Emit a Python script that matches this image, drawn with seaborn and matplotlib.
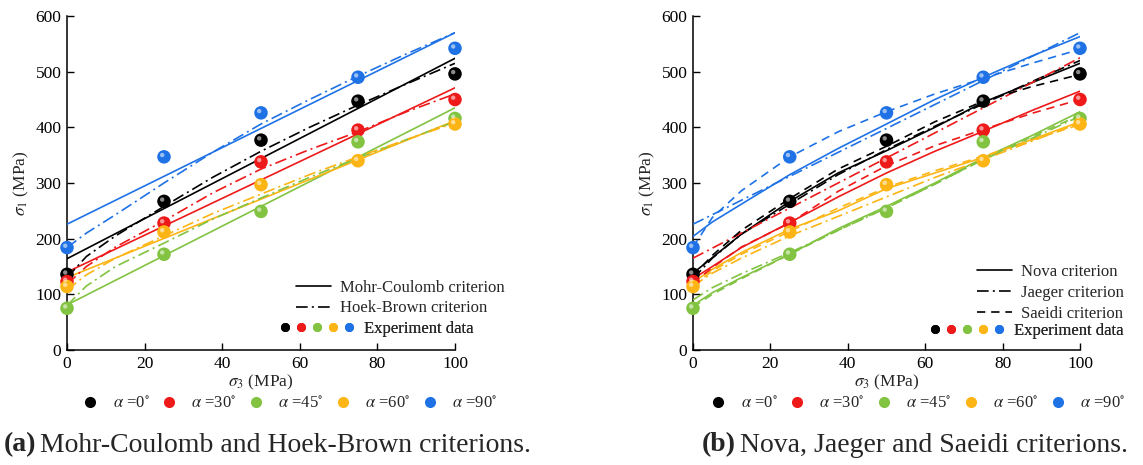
import numpy as np
import pandas as pd
import matplotlib
matplotlib.use("Agg")
import matplotlib.pyplot as plt
import seaborn as sns
from matplotlib.lines import Line2D
from matplotlib.legend_handler import HandlerTuple
import matplotlib.transforms as mtransforms

# ---------------- data ----------------
ALPHAS = ["0", "30", "45", "60", "90"]
COLORS = ["#000000", "#ee1a1a", "#82c341", "#fdb515", "#1f72e6"]

S3_EXP = [0, 25, 50, 75, 100]
EXP_0 = [136, 267, 377, 447, 496]
EXP_30 = [123, 228, 338, 395, 450]
EXP_45 = [75, 172, 249, 374, 416]
EXP_60 = [114, 212, 297, 340, 406]
EXP_90 = [184, 347, 426, 490, 542]

# Mohr-Coulomb (straight lines)
S3_LINE = [0, 100]
MC_0 = [164, 524]
MC_30 = [140, 471]
MC_45 = [81, 435]
MC_60 = [130, 412]
MC_90 = [226, 570]

S3_CURVE = [0, 5, 12.5, 25, 37.5, 50, 62.5, 75, 87.5, 100]
# Hoek-Brown
HB_0 = [130, 168, 205, 258, 310, 357, 400, 440, 478, 515]
HB_30 = [118, 150, 185, 232, 282, 325, 360, 392, 428, 460]
HB_45 = [80, 115, 150, 192, 235, 273, 310, 345, 378, 410]
HB_60 = [108, 135, 165, 205, 245, 280, 315, 347, 378, 408]
HB_90 = [184, 210, 243, 300, 355, 406, 450, 492, 532, 570]
# Nova
NOVA_0 = [138, 166, 208, 267, 318, 358, 400, 445, 480, 515]
NOVA_30 = [128, 150, 184, 229, 275, 318, 357, 393, 430, 465]
NOVA_45 = [80, 103, 130, 172, 218, 258, 300, 345, 385, 428]
NOVA_60 = [122, 145, 175, 217, 250, 290, 318, 346, 378, 410]
NOVA_90 = [204, 230, 262, 315, 362, 406, 450, 490, 528, 563]
# Jaeger
JAE_0 = [128, 165, 208, 262, 315, 360, 402, 442, 482, 520]
JAE_30 = [165, 183, 210, 255, 300, 345, 390, 435, 480, 525]
JAE_45 = [90, 112, 137, 175, 215, 255, 298, 342, 380, 420]
JAE_60 = [115, 138, 165, 205, 240, 275, 310, 342, 375, 408]
JAE_90 = [226, 243, 269, 312, 355, 398, 441, 484, 527, 570]
# Saeidi
SAE_0 = [133, 170, 215, 272, 325, 366, 410, 447, 473, 495]
SAE_30 = [120, 148, 185, 228, 285, 331, 367, 396, 425, 450]
SAE_45 = [77, 100, 128, 172, 215, 256, 298, 343, 383, 422]
SAE_60 = [116, 142, 172, 213, 255, 292, 322, 348, 377, 405]
SAE_90 = [185, 238, 286, 347, 392, 428, 460, 488, 515, 540]

XTICKS = [0, 20, 40, 60, 80, 100]
YTICKS = [0, 100, 200, 300, 400, 500, 600]


def long_df(x, series):
    rows = []
    for a, vals in zip(ALPHAS, series):
        for xi, yi in zip(x, vals):
            rows.append({"s3": xi, "s1": yi, "alpha": a})
    return pd.DataFrame(rows)


exp_df = long_df(S3_EXP, [EXP_0, EXP_30, EXP_45, EXP_60, EXP_90])
mc_df = long_df(S3_LINE, [MC_0, MC_30, MC_45, MC_60, MC_90])
hb_df = long_df(S3_CURVE, [HB_0, HB_30, HB_45, HB_60, HB_90])
nova_df = long_df(S3_CURVE, [NOVA_0, NOVA_30, NOVA_45, NOVA_60, NOVA_90])
jae_df = long_df(S3_CURVE, [JAE_0, JAE_30, JAE_45, JAE_60, JAE_90])
sae_df = long_df(S3_CURVE, [SAE_0, SAE_30, SAE_45, SAE_60, SAE_90])

# ---------------- style ----------------
sns.set_theme(style="ticks")
plt.rcParams["font.family"] = ["Liberation Serif", "DejaVu Serif"]
plt.rcParams["mathtext.fontset"] = "stix"
palette = dict(zip(ALPHAS, COLORS))

DASHDOT = (0, (7, 2.5, 1.2, 2.5))
DASHED = (0, (5, 3.5))
LW = 1.2

W, H = 1143, 465
fig = plt.figure(figsize=(W / 100, H / 100), dpi=100)
ax1 = fig.add_axes([67 / W, 1 - 350 / H, 388 / W, 334 / H])
ax2 = fig.add_axes([693 / W, 1 - 350 / H, 387 / W, 334 / H])


def draw_lines(ax, df, ls):
    for a in ALPHAS:
        sub = df[df["alpha"] == a]
        sns.lineplot(data=sub, x="s3", y="s1", color=palette[a], linestyle=ls,
                     linewidth=LW, ax=ax, estimator=None, sort=True, zorder=3)


def draw_points(ax):
    sns.scatterplot(data=exp_df, x="s3", y="s1", hue="alpha", palette=palette,
                    s=95, edgecolor="none", linewidth=0, legend=False, ax=ax,
                    zorder=6, clip_on=False)
    off = mtransforms.offset_copy(ax.transData, fig=fig, x=-1.8, y=1.8, units="dots")
    ax.scatter(exp_df["s3"], exp_df["s1"], s=10, color="white", alpha=0.55,
               edgecolor="none", transform=off, zorder=7, clip_on=False)


draw_lines(ax1, mc_df, "-")
draw_lines(ax1, hb_df, DASHDOT)
draw_points(ax1)

draw_lines(ax2, nova_df, "-")
draw_lines(ax2, jae_df, DASHDOT)
draw_lines(ax2, sae_df, DASHED)
draw_points(ax2)

for ax in (ax1, ax2):
    ax.set_xlim(0, 100)
    ax.set_ylim(0, 600)
    ax.set_xticks(XTICKS)
    ax.set_yticks(YTICKS)
    ax.tick_params(direction="in", length=5, width=1, labelsize=12.5, pad=4,
                   colors="black")
    for sp in ("top", "right"):
        ax.spines[sp].set_visible(False)
    for sp in ("left", "bottom"):
        ax.spines[sp].set_linewidth(1.1)
        ax.spines[sp].set_color("black")
    ax.set_xlabel(r"$\sigma_3$ (MPa)", fontsize=12.5, labelpad=1)
    ax.set_ylabel(r"$\sigma_1$ (MPa)", fontsize=12.5, labelpad=3)
    ax.set_facecolor("white")

# ---------------- legends inside ----------------
def dots_handle():
    return tuple(Line2D([], [], marker="o", linestyle="none", color=c,
                        markersize=6.5, markeredgewidth=0) for c in COLORS)


def inner_legends(ax, names, styles, x_lines, y_lines, x_dots, y_dots):
    hs = [Line2D([], [], color="black", linestyle=s, linewidth=LW) for s in styles]
    leg1 = ax.legend(hs, names, loc="center left", bbox_to_anchor=(x_lines, y_lines),
                     frameon=False, fontsize=12, handlelength=2.1, handletextpad=0.55,
                     labelspacing=0.3, borderpad=0, borderaxespad=0)
    ax.add_artist(leg1)
    leg2 = ax.legend([dots_handle()], ["Experiment data"], loc="center left",
                     bbox_to_anchor=(x_dots, y_dots), frameon=False, fontsize=12,
                     handler_map={tuple: HandlerTuple(ndivide=None, pad=0.5)},
                     handlelength=4.3, handletextpad=0.7, borderpad=0, borderaxespad=0)
    ax.add_artist(leg2)


inner_legends(ax1, ["Mohr-Coulomb criterion", "Hoek-Brown criterion"], ["-", DASHDOT],
              (296 - 67) / 388, (350 - 298) / 334, (281 - 67) / 388, (350 - 329) / 334)
inner_legends(ax2, ["Nova criterion", "Jaeger criterion", "Saeidi criterion"],
              ["-", DASHDOT, DASHED],
              (977 - 693) / 387, (350 - 293) / 334, (931 - 693) / 387, (350 - 331) / 334)

# ---------------- bottom alpha legends ----------------
alpha_labels = [r"$\alpha$ =" + a + r"$^{\circ}$" for a in ALPHAS]
for x0 in (82, 710):
    hs = [Line2D([], [], marker="o", linestyle="none", color=c, markersize=8,
                 markeredgewidth=0) for c in COLORS]
    fig.legend(hs, alpha_labels, loc="center left", bbox_to_anchor=(x0 / W, 1 - 404 / H),
               ncol=5, frameon=False, fontsize=12, handlelength=1.0,
               handletextpad=0.85, columnspacing=0.65, borderpad=0, borderaxespad=0)

# ---------------- captions ----------------
def caption(x0, tag, text):
    t = fig.text(x0 / W, 1 - 445 / H, tag, fontsize=20, fontweight="bold",
                 ha="left", va="center")
    fig.canvas.draw()
    bb = t.get_window_extent()
    fig.text((bb.x1 + 4) / W, 1 - 445 / H, text, fontsize=20, ha="left", va="center")


caption(4, "(a)", "Mohr-Coulomb and Hoek-Brown criterions.")
caption(702, "(b)", "Nova, Jaeger and Saeidi criterions.")

fig.savefig("out.png", dpi=100, facecolor="white")
